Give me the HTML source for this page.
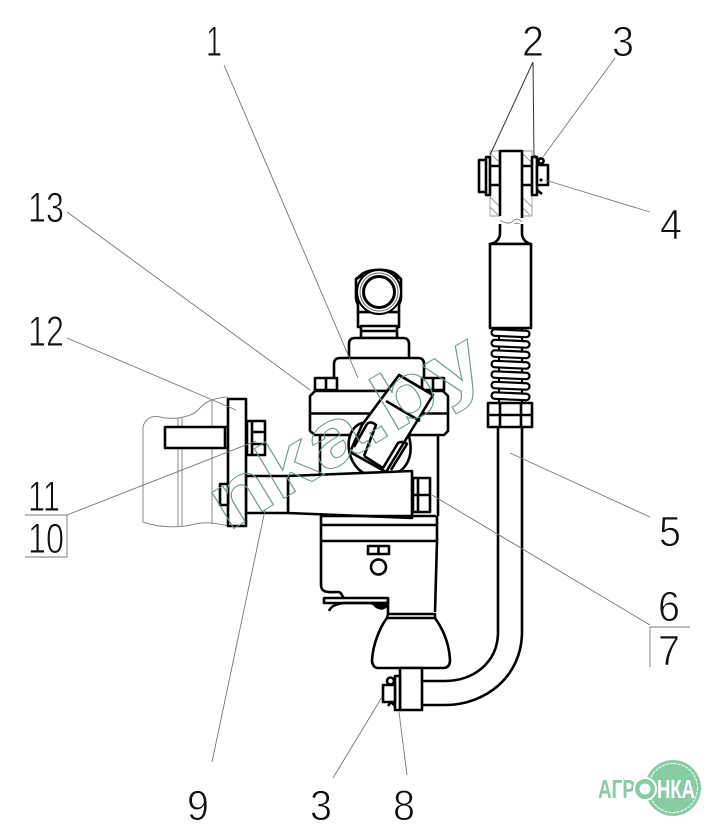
<!DOCTYPE html>
<html><head><meta charset="utf-8"><style>
html,body{margin:0;padding:0;background:#fff}
svg{display:block}
.t{font-family:"Liberation Sans",sans-serif;font-size:43px;fill:#111;stroke:#fff;stroke-width:.9px;text-anchor:middle}
.l{stroke:#777;stroke-width:.9;fill:none}
.k{stroke:#000;stroke-width:2.6;fill:#fff;stroke-linejoin:round}
.n{stroke:#000;stroke-width:2.6;fill:none;stroke-linejoin:round}
.f{stroke:#888;stroke-width:1;fill:none}
.h{stroke:#999;stroke-width:.9;fill:none}
.s{stroke:#000;stroke-width:2.2;fill:#fff}
</style></head><body>
<svg width="721" height="837" viewBox="0 0 721 837" xmlns="http://www.w3.org/2000/svg">
<rect width="721" height="837" fill="#fff"/>

<!-- left thin bracket outline -->
<path class="f" d="M228 397C212 398 205 402 198 410C190 418 172 420 160 417C148 414 142 424 143 430V522C160 528 180 528 195 524C208 521 218 524 229 526M178 418V526M182 418V526M212 400V524"/>

<!-- right fork and hatch -->
<path class="h" d="M490 151H500V216H490ZM522 151H532V216H522ZM490 153L500 163M522 153L532 163M490 197L500 207M490 207L498 215M522 197L532 207M522 207L530 215"/>
<path class="k" d="M500 216V151H522V218"/>
<path class="f" d="M500 220C506 224 510 224 513 221C516 218 519 219 522 222M500 224C506 228 510 228 513 225C516 222 519 223 522 226"/>
<path class="k" d="M500 224V233C500 239 496 243 490 244H531C526 243 522 239 522 233V224" />
<rect class="k" x="479" y="160" width="8" height="32"/>
<rect class="k" x="486" y="157" width="4" height="38"/>
<path class="n" d="M490 166H500M490 185H500M522 166H532M522 185H532"/>
<rect class="k" x="532" y="157" width="5" height="38"/>
<path class="k" d="M537 165H548V185H537Z"/>
<circle cx="541" cy="161" r="2.6" class="k"/>
<circle cx="541" cy="180" r="1.6" fill="#000"/>
<path class="n" d="M537 190L542 194M537 158L534 156"/>

<!-- sleeve -->
<rect class="k" x="490" y="244" width="41" height="84"/>

<!-- spring -->
<path stroke="#000" stroke-width="2.2" fill="none" d="M499 328V402M522 328V402"/>
<g class="s">
<rect class="s" x="491.500" y="330" width="38" height="6.500" rx="3.200" transform="rotate(2.500 510 333)"/>
<rect class="s" x="491.500" y="340.500" width="38" height="6.500" rx="3.200" transform="rotate(2.500 510 344)"/>
<rect class="s" x="491.500" y="351" width="38" height="6.500" rx="3.200" transform="rotate(2.500 510 354)"/>
<rect class="s" x="491.500" y="361.500" width="38" height="6.500" rx="3.200" transform="rotate(2.500 510 365)"/>
<rect class="s" x="491.500" y="372" width="38" height="6.500" rx="3.200" transform="rotate(2.500 510 375)"/>
<rect class="s" x="491.500" y="382.500" width="38" height="6.500" rx="3.200" transform="rotate(2.500 510 386)"/>
<rect class="s" x="491.500" y="393" width="38" height="6.500" rx="3.200" transform="rotate(2.500 510 396)"/>
</g>

<!-- nut -->
<rect class="k" x="488" y="403" width="44" height="24"/>
<path class="n" d="M488 415H532M500 403V427M521 403V427"/>

<!-- tube -->
<path class="n" d="M498 427V632C498 662 474 681 445 681H420"/>
<path class="n" d="M522 427V632C522 676 486 705 445 705H420"/>

<!-- top port -->
<path class="k" d="M358 327V312H399V327Z"/>
<path class="k" d="M361 326H397V338H361Z"/>
<path class="n" d="M361 331H397"/>
<path class="k" d="M358 312V306C358 302 356 302 356 298V279L361 275C368 268 390 268 397 275L401 279V298C401 302 399 302 399 306V312Z"/>
<path class="n" d="M356 279L363 275M401 279L394 275" />
<circle cx="379" cy="292" r="22" fill="#fff" stroke="#000" stroke-width="2"/>
<circle cx="379" cy="292" r="19" fill="#fff" stroke="#666" stroke-width="1"/>
<circle cx="379" cy="292" r="15.500" fill="#fff" stroke="#000" stroke-width="3"/>

<path class="k" d="M349 358V344C349 340 351 338 355 338H403C407 338 409 340 409 344V358"/>
<path class="k" d="M334 391V364C334 360 336 358 340 358H418C422 358 424 360 424 364V391Z"/>

<!-- flange bolts -->
<path class="k" d="M315 378H337V390H315ZM422 378H444V390H422Z"/>
<path class="n" d="M326 378V390M433 378V390"/>

<!-- body under flange -->
<path class="n" d="M320 435V476M438 436V516"/>
<path class="k" d="M310 396L315 391H443L448 396V431L444 435H315L310 431Z"/>
<path class="n" d="M310 413.500H448" stroke-width="3.500"/>

<!-- circle and tilted valve -->
<path class="k" d="M362 423C340 430 345 476 378 477C410 478 418 450 404 424Z" stroke-width="2.400"/>
<path class="k" d="M399 375L433 395L386 472L350 452L362 425Z"/>
<path class="n" d="M386 401L420 421" stroke-width="2.600"/>
<path class="n" d="M399 375L433 395" stroke-width="3.500"/>
<path class="n" d="M367 424L354 447M367 424C370 421 374 423 376 425L364 456M364 456L383 468L398 443C401 441 405 442 407 444L391 470" stroke-width="2.200"/>

<!-- lower body -->
<path class="n" d="M321 515V585C321 594 331 592 338 592C342 592 342 597 344 598"/>
<path class="n" d="M320 525H437M321 541H437M437 516V541L435 612"/>
<path class="k" d="M324 598H388V603H324Z"/>
<path class="n" d="M329 611C331 606 336 604 344 603H388C386 609 380 610 377 606"/>
<path class="n" d="M388 598V614"/>
<path d="M369 603H388C386 610 377 611 374 606Z" fill="#000"/>
<path class="k" d="M368 546H389V554H368Z"/>
<path class="n" d="M378.500 546V554"/>
<circle cx="378.500" cy="567" r="7.500" class="k" stroke-width="2"/>

<!-- bell -->
<path class="k" d="M388 614H435L435 618C440 625 449 640 450 660C450 666 447 668 443 668H378C374 668 372 664 372 660C373 644 380 627 387 618Z"/>
<path class="n" d="M387 618H435" stroke-width="1.800"/>

<!-- bottom fitting -->
<rect class="k" x="400" y="668" width="22" height="42"/>
<rect class="k" x="395" y="676" width="5" height="34"/>
<rect class="k" x="383" y="685" width="12" height="17"/>
<circle cx="390.500" cy="681" r="3.500" class="k" stroke-width="1.800"/>
<path class="n" d="M388 706L391 702L395 706" stroke-width="1.800"/>

<!-- arm -->
<path class="k" d="M288 476L412 471V518L288 513Z"/>
<path class="k" d="M246 476H288V513H246Z"/>
<rect class="k" x="413" y="478" width="17" height="34" />
<path class="n" d="M413 495H430M418 478V512" stroke-width="2"/>
<path class="k" d="M320 516H436" />

<!-- plate + stud + bolts -->
<rect class="k" x="165" y="427" width="64" height="21"/>
<path class="n" d="M225 427V448"/>
<rect class="k" x="228" y="399" width="18" height="127"/>
<rect class="k" x="220" y="484" width="8" height="21"/>
<rect class="k" x="247" y="421" width="18" height="34"/>
<path class="n" d="M252 421V455M252 432H265M252 444H265" stroke-width="2"/>

<!-- leaders -->
<path class="l" d="M224 65L358 378"/>
<path class="l" d="M67 212L310 390"/>
<path class="l" d="M67 338L236 410"/>
<path class="l" d="M67 515L256 441"/>
<path class="l" d="M212 762L265 510"/>
<path class="l" d="M333 778L382 697"/>
<path class="l" d="M407 775L399 712"/>
<path class="l" d="M650 625L432 495"/>
<path class="l" d="M650 517L510 453"/>
<path class="l" d="M650 212L545 180"/>
<path class="l" d="M615 58L543 157"/>
<path d="M533 62L490 155M533 62L534 158" stroke="#333" stroke-width="1" fill="none"/>
<path class="l" d="M25 515H67V557H25"/>
<path class="l" d="M690 627H650V667"/>

<!-- watermark -->
<text x="228" y="532" transform="rotate(-31 228 532)" font-family="Liberation Sans, sans-serif" font-weight="700" font-size="80" fill="none" stroke="#6d9a8a" stroke-width="1" textLength="305" lengthAdjust="spacingAndGlyphs">nka.by</text>

<!-- labels -->
<text class="t" x="214" y="56" textLength="16" lengthAdjust="spacingAndGlyphs">1</text>
<text class="t" x="533" y="56" textLength="22" lengthAdjust="spacingAndGlyphs">2</text>
<text class="t" x="623" y="56" textLength="22" lengthAdjust="spacingAndGlyphs">3</text>
<text class="t" x="671" y="239" textLength="22" lengthAdjust="spacingAndGlyphs">4</text>
<text class="t" x="670" y="546" textLength="22" lengthAdjust="spacingAndGlyphs">5</text>
<text class="t" x="669" y="621" textLength="22" lengthAdjust="spacingAndGlyphs">6</text>
<text class="t" x="669" y="665" textLength="22" lengthAdjust="spacingAndGlyphs">7</text>
<text class="t" x="46" y="222" textLength="36" lengthAdjust="spacingAndGlyphs">13</text>
<text class="t" x="46" y="346" textLength="36" lengthAdjust="spacingAndGlyphs">12</text>
<text class="t" x="44" y="511" textLength="32" lengthAdjust="spacingAndGlyphs">11</text>
<text class="t" x="46" y="553" textLength="36" lengthAdjust="spacingAndGlyphs">10</text>
<text class="t" x="198" y="820" textLength="22" lengthAdjust="spacingAndGlyphs">9</text>
<text class="t" x="321" y="820" textLength="22" lengthAdjust="spacingAndGlyphs">3</text>
<text class="t" x="404" y="820" textLength="22" lengthAdjust="spacingAndGlyphs">8</text>

<!-- logo -->
<circle cx="673" cy="788" r="28" fill="#88cca6"/>
<circle cx="673" cy="788" r="24.500" fill="none" stroke="#fff" stroke-width="1" stroke-dasharray="3 1"/>
<text x="598" y="798" font-family="Liberation Sans, sans-serif" font-weight="700" font-size="26" fill="#88cca6" textLength="37" lengthAdjust="spacingAndGlyphs">АГР</text>
<circle cx="645" cy="789" r="11" fill="#88cca6" stroke="#fff" stroke-width="2"/>
<circle cx="645" cy="789" r="5.500" fill="#fff"/>
<text x="657" y="798" font-family="Liberation Sans, sans-serif" font-weight="700" font-size="26" fill="#fff" textLength="38" lengthAdjust="spacingAndGlyphs">НКА</text>
</svg>
</body></html>
